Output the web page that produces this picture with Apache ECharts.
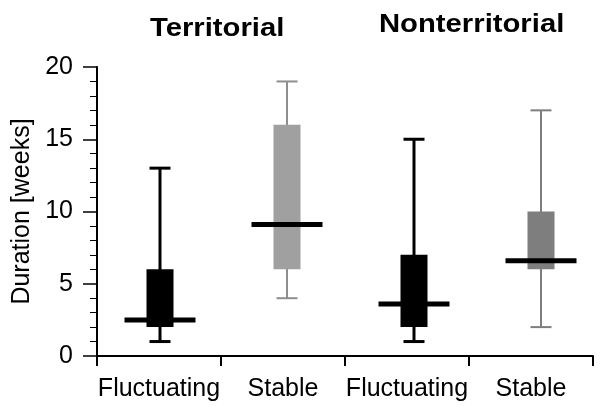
<!DOCTYPE html>
<html><head><meta charset="utf-8">
<script src="https://cdn.jsdelivr.net/npm/echarts@6/dist/echarts.min.js"></script>
<style>html,body{margin:0;padding:0;background:#fff}#c{width:615px;height:407px}</style>
</head><body><div id="c"></div><script>
// ---- data ----
const categories = ['Fluctuating', 'Stable', 'Fluctuating', 'Stable'];
const groupTitles = ['Territorial', 'Nonterritorial'];
const whiskerLow  = [1, 4, 1, 2];
const quartile1   = [2, 6, 2, 6];
const medians     = [2.5, 9.1, 3.6, 6.6];
const quartile3   = [6, 16, 7, 10];
const whiskerHigh = [13, 19, 15, 17];
const yTickValues = [0, 5, 10, 15, 20];

// ---- styles ----
const boxFill    = ['#000000', '#a0a0a0', '#000000', '#7e7e7e'];
const whiskerCol = ['#000000', '#8e8e8e', '#000000', '#7e7e7e'];
const whiskerW   = [3, 2, 3, 2];
const FONT = '"Liberation Sans", Arial, Helvetica, sans-serif';

const boxData = categories.map((c, i) =>
  [i, whiskerLow[i], quartile1[i], medians[i], quartile3[i], whiskerHigh[i]]);

const chart = echarts.init(document.getElementById('c'), null, {renderer: 'canvas'});

function renderBox(params, api) {
  const i = params.dataIndex;
  const x = api.value(0);
  const pLo = api.coord([x, api.value(1)]);
  const pQ1 = api.coord([x, api.value(2)]);
  const pMed = api.coord([x, api.value(3)]);
  const pQ3 = api.coord([x, api.value(4)]);
  const pHi = api.coord([x, api.value(5)]);
  const cx = Math.round(pLo[0]);
  const boxW = 27, capW = 21, medW = 71, medH = 5;
  const lineStyle = {stroke: whiskerCol[i], lineWidth: whiskerW[i]};
  return {
    type: 'group',
    children: [
      {type: 'line', shape: {x1: cx, y1: pLo[1], x2: cx, y2: pHi[1]}, style: lineStyle},
      {type: 'line', shape: {x1: cx - capW / 2, y1: pLo[1], x2: cx + capW / 2, y2: pLo[1]}, style: lineStyle},
      {type: 'line', shape: {x1: cx - capW / 2, y1: pHi[1], x2: cx + capW / 2, y2: pHi[1]}, style: lineStyle},
      {type: 'rect', shape: {x: cx - boxW / 2, y: pQ3[1], width: boxW, height: pQ1[1] - pQ3[1]},
        style: {fill: boxFill[i]}},
      {type: 'rect', shape: {x: cx - medW / 2, y: pMed[1] - medH / 2, width: medW, height: medH},
        style: {fill: '#000'}}
    ]
  };
}

chart.setOption({
  animation: false,
  backgroundColor: '#fff',
  graphic: [
    {type: 'text', x: 150, y: 29, scaleX: 1.17,
      style: {text: groupTitles[0], fontFamily: FONT, fontSize: 25, fontWeight: 'bold',
        fill: '#000', align: 'left', verticalAlign: 'middle'}},
    {type: 'text', x: 379, y: 25, scaleX: 1.17,
      style: {text: groupTitles[1], fontFamily: FONT, fontSize: 25, fontWeight: 'bold',
        fill: '#000', align: 'left', verticalAlign: 'middle'}}
  ],
  grid: {left: 97, right: 22, top: 67, bottom: 51},
  xAxis: [{
    type: 'category',
    data: categories,
    boundaryGap: true,
    axisLine: {onZero: false, lineStyle: {color: '#000', width: 2}},
    axisTick: {show: true, length: 10, lineStyle: {color: '#000', width: 2}},
    axisLabel: {color: '#000', fontFamily: FONT, fontSize: 25, margin: 21, interval: 0},
    splitLine: {show: false}
  }, {
    // hidden positional scale for the box centres (slightly offset from the category centres)
    type: 'value', min: -0.5, max: 3.41, show: false,
    axisLine: {onZero: false},
    splitLine: {show: false}
  }],
  yAxis: {
    type: 'value',
    min: yTickValues[0],
    max: yTickValues[yTickValues.length - 1],
    interval: yTickValues[1] - yTickValues[0],
    name: 'Duration [weeks]',
    nameLocation: 'middle',
    nameGap: 60,
    nameTextStyle: {color: '#000', fontFamily: FONT, fontSize: 25},
    axisLine: {show: true, onZero: false, lineStyle: {color: '#000', width: 2}},
    axisTick: {show: true, length: 14, lineStyle: {color: '#000', width: 1.5}},
    minorTick: {show: true, splitNumber: 5, length: 7, lineStyle: {color: '#000', width: 1}},
    axisLabel: {color: '#000', fontFamily: FONT, fontSize: 25, margin: 24},
    splitLine: {show: false}
  },
  series: [{
    type: 'custom',
    xAxisIndex: 1,
    renderItem: renderBox,
    encode: {x: 0, y: [1, 2, 3, 4, 5]},
    data: boxData,
    clip: false
  }]
});
</script></body></html>
